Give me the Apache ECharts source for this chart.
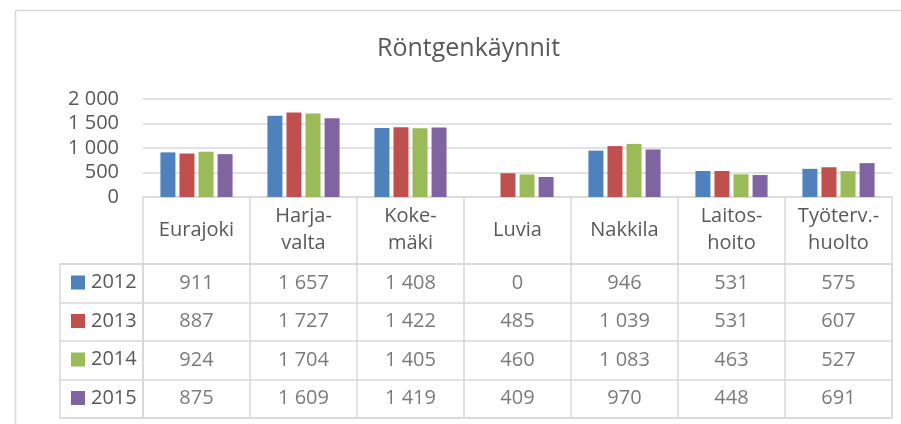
<!DOCTYPE html>
<html>
<head>
<meta charset="utf-8">
<script src="https://cdn.jsdelivr.net/npm/echarts@6/dist/echarts.min.js"></script>
<style>html,body{margin:0;padding:0;background:#fff}#c{width:901px;height:424px}</style>
</head>
<body>
<div id="c"></div>
<script>
var title = 'Röntgenkäynnit';
var categories = ['Eurajoki', 'Harja-\nvalta', 'Koke-\nmäki', 'Luvia', 'Nakkila', 'Laitos-\nhoito', 'Työterv.-\nhuolto'];
var years = ['2012', '2013', '2014', '2015'];
var v2012 = [911, 1657, 1408, 0, 946, 531, 575];
var v2013 = [887, 1727, 1422, 485, 1039, 531, 607];
var v2014 = [924, 1704, 1405, 460, 1083, 463, 527];
var v2015 = [875, 1609, 1419, 409, 970, 448, 691];
var yTicks = [0, 500, 1000, 1500, 2000];
var colors = ['#4F81BD', '#C0504D', '#9BBB59', '#8064A2'];

var values = [v2012, v2013, v2014, v2015];
var FONT = "'Open Sans', 'Noto Sans', sans-serif";
var TXT = '#595959';
var LINE = '#d9d9d9';

function fmt(n) {
  return String(n).replace(/\B(?=(\d{3})+(?!\d))/g, '\u00a0');
}

var series = [];
years.forEach(function (y, k) {
  series.push({
    name: y, type: 'bar', xAxisIndex: 0, yAxisIndex: 0,
    data: values[k], barWidth: 15, barGap: '27%',
    itemStyle: { color: colors[k] },
    emphasis: { disabled: true }
  });
});
years.forEach(function (y, k) {
  series.push({
    name: 'taulukko ' + y, type: 'scatter', xAxisIndex: 1, yAxisIndex: 1,
    symbolSize: 1, itemStyle: { color: 'rgba(0,0,0,0)' },
    data: categories.map(function (c, i) { return [c, y, values[k][i]]; }),
    label: {
      show: true, position: 'inside', fontFamily: FONT, fontSize: 20, color: TXT,
      formatter: function (p) { return fmt(p.value[2]); }
    },
    emphasis: { disabled: true }
  });
});

var chart = echarts.init(document.getElementById('c'), null, { renderer: 'canvas' });
chart.setOption({
  animation: false,
  backgroundColor: '#fff',
  title: {
    text: title, left: 372, top: 31,
    textStyle: { fontFamily: FONT, fontSize: 25, fontWeight: 'normal', color: TXT }
  },
  legend: {
    data: years, orient: 'vertical', left: 66, top: 267.5,
    icon: 'rect', itemWidth: 14, itemHeight: 14, itemGap: 18.5,
    selectedMode: false,
    textStyle: { fontFamily: FONT, fontSize: 20, lineHeight: 20, color: TXT, padding: [0, 0, 0, 1] }
  },
  graphic: [{
    type: 'rect', silent: true,
    shape: { x: 15.5, y: 10.5, width: 900, height: 430 },
    style: { fill: 'none', stroke: LINE, lineWidth: 1.5 }
  }],
  grid: [
    { left: 143, right: 9, top: 99, bottom: 227 },
    { left: 143, right: 9, top: 264, bottom: 6, show: true, borderColor: LINE, borderWidth: 1.5 },
    { left: 60, width: 83, top: 264, bottom: 6, show: true, borderColor: LINE, borderWidth: 1.5 }
  ],
  xAxis: [
    {
      gridIndex: 0, type: 'category', data: categories,
      axisLine: { show: true, lineStyle: { color: LINE, width: 1.5 } },
      axisTick: { show: true, interval: 0, length: 67, lineStyle: { color: LINE, width: 1.5 } },
      axisLabel: {
        interval: 0, margin: 33, verticalAlign: 'middle', lineHeight: 27,
        fontFamily: FONT, fontSize: 20, color: TXT
      },
      splitLine: { show: false }
    },
    {
      gridIndex: 1, type: 'category', data: categories,
      axisLine: { show: false }, axisTick: { show: false }, axisLabel: { show: false },
      splitLine: { show: true, interval: 0, lineStyle: { color: LINE, width: 1.5 } }
    },
    {
      gridIndex: 2, type: 'category', data: [''],
      axisLine: { show: false }, axisTick: { show: false }, axisLabel: { show: false },
      splitLine: { show: false }
    }
  ],
  yAxis: [
    {
      gridIndex: 0, type: 'value', min: yTicks[0], max: yTicks[yTicks.length - 1], interval: 500,
      axisLine: { show: false }, axisTick: { show: false },
      axisLabel: { margin: 24, fontFamily: FONT, fontSize: 20, color: TXT, formatter: function (v) { return fmt(v); } },
      splitLine: { show: true, lineStyle: { color: LINE, width: 1.5 } }
    },
    {
      gridIndex: 1, type: 'category', data: years, inverse: true,
      axisLine: { show: false }, axisTick: { show: false }, axisLabel: { show: false },
      splitLine: { show: true, interval: 0, lineStyle: { color: LINE, width: 1.5 } }
    },
    {
      gridIndex: 2, type: 'category', data: years, inverse: true,
      axisLine: { show: false }, axisTick: { show: false }, axisLabel: { show: false },
      splitLine: { show: true, interval: 0, lineStyle: { color: LINE, width: 1.5 } }
    }
  ],
  tooltip: { show: false },
  series: series
});
</script>
</body>
</html>
